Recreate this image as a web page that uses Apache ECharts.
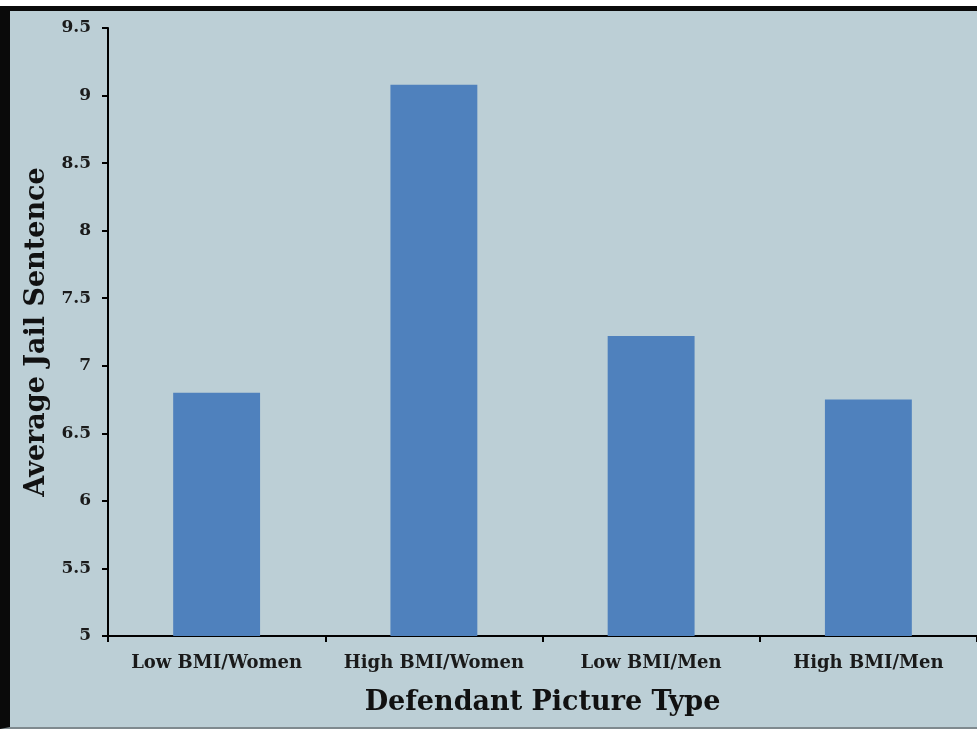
<!DOCTYPE html>
<html>
<head>
<meta charset="utf-8">
<script src="https://cdn.jsdelivr.net/npm/echarts@6/dist/echarts.min.js"></script>
<style>
html,body{margin:0;padding:0;background:#fff;}
#wrap{position:absolute;left:0;top:6px;width:977px;height:723px;background:#bccfd6;box-sizing:border-box;border-left:10px solid #0a0a0a;border-top:5px solid #0a0a0a;border-bottom:2px solid #7f8a8f;}
#chart{position:absolute;left:0;top:0;width:977px;height:729px;}
</style>
</head>
<body>
<div id="wrap"></div>
<div id="chart"></div>
<script>
const categories = ["Low BMI/Women", "High BMI/Women", "Low BMI/Men", "High BMI/Men"];
const values = [6.8, 9.08, 7.22, 6.75];
const yTicks = [5, 5.5, 6, 6.5, 7, 7.5, 8, 8.5, 9, 9.5];

const font = "'DejaVu Serif', 'Liberation Serif', serif";
const chart = echarts.init(document.getElementById('chart'), null, {renderer: 'canvas'});
chart.setOption({
  backgroundColor: 'transparent',
  animation: false,
  grid: {left: 108, right: 0, top: 28, bottom: 93, containLabel: false},
  xAxis: {
    type: 'category',
    data: categories,
    name: 'Defendant Picture Type',
    nameLocation: 'middle',
    nameGap: 53,
    nameTextStyle: {fontFamily: font, fontWeight: 'bold', fontSize: 27, color: '#111'},
    axisLine: {lineStyle: {color: '#000', width: 2}},
    axisTick: {show: true, interval: 0, length: 6, inside: false, lineStyle: {color: '#000', width: 2}},
    axisLabel: {interval: 0, fontFamily: font, fontWeight: 'bold', fontSize: 18, color: '#1a1a1a', margin: 18},
    splitLine: {show: false}
  },
  yAxis: {
    type: 'value',
    min: 5,
    max: 9.5,
    interval: 0.5,
    name: 'Average Jail Sentence',
    nameLocation: 'middle',
    nameGap: 57,
    nameRotate: 90,
    nameTextStyle: {fontFamily: font, fontWeight: 'bold', fontSize: 27, color: '#111'},
    axisLine: {show: true, lineStyle: {color: '#000', width: 2}},
    axisTick: {show: true, length: 6, lineStyle: {color: '#000', width: 2}},
    axisLabel: {fontFamily: font, fontWeight: 'bold', fontSize: 17, color: '#1a1a1a', margin: 17,
      formatter: function (v) { return yTicks.indexOf(v) >= 0 ? String(v) : ''; }},
    splitLine: {show: false}
  },
  series: [{
    type: 'bar',
    data: values,
    barWidth: '40%',
    itemStyle: {color: '#4f81bd'}
  }]
});
</script>
</body>
</html>
